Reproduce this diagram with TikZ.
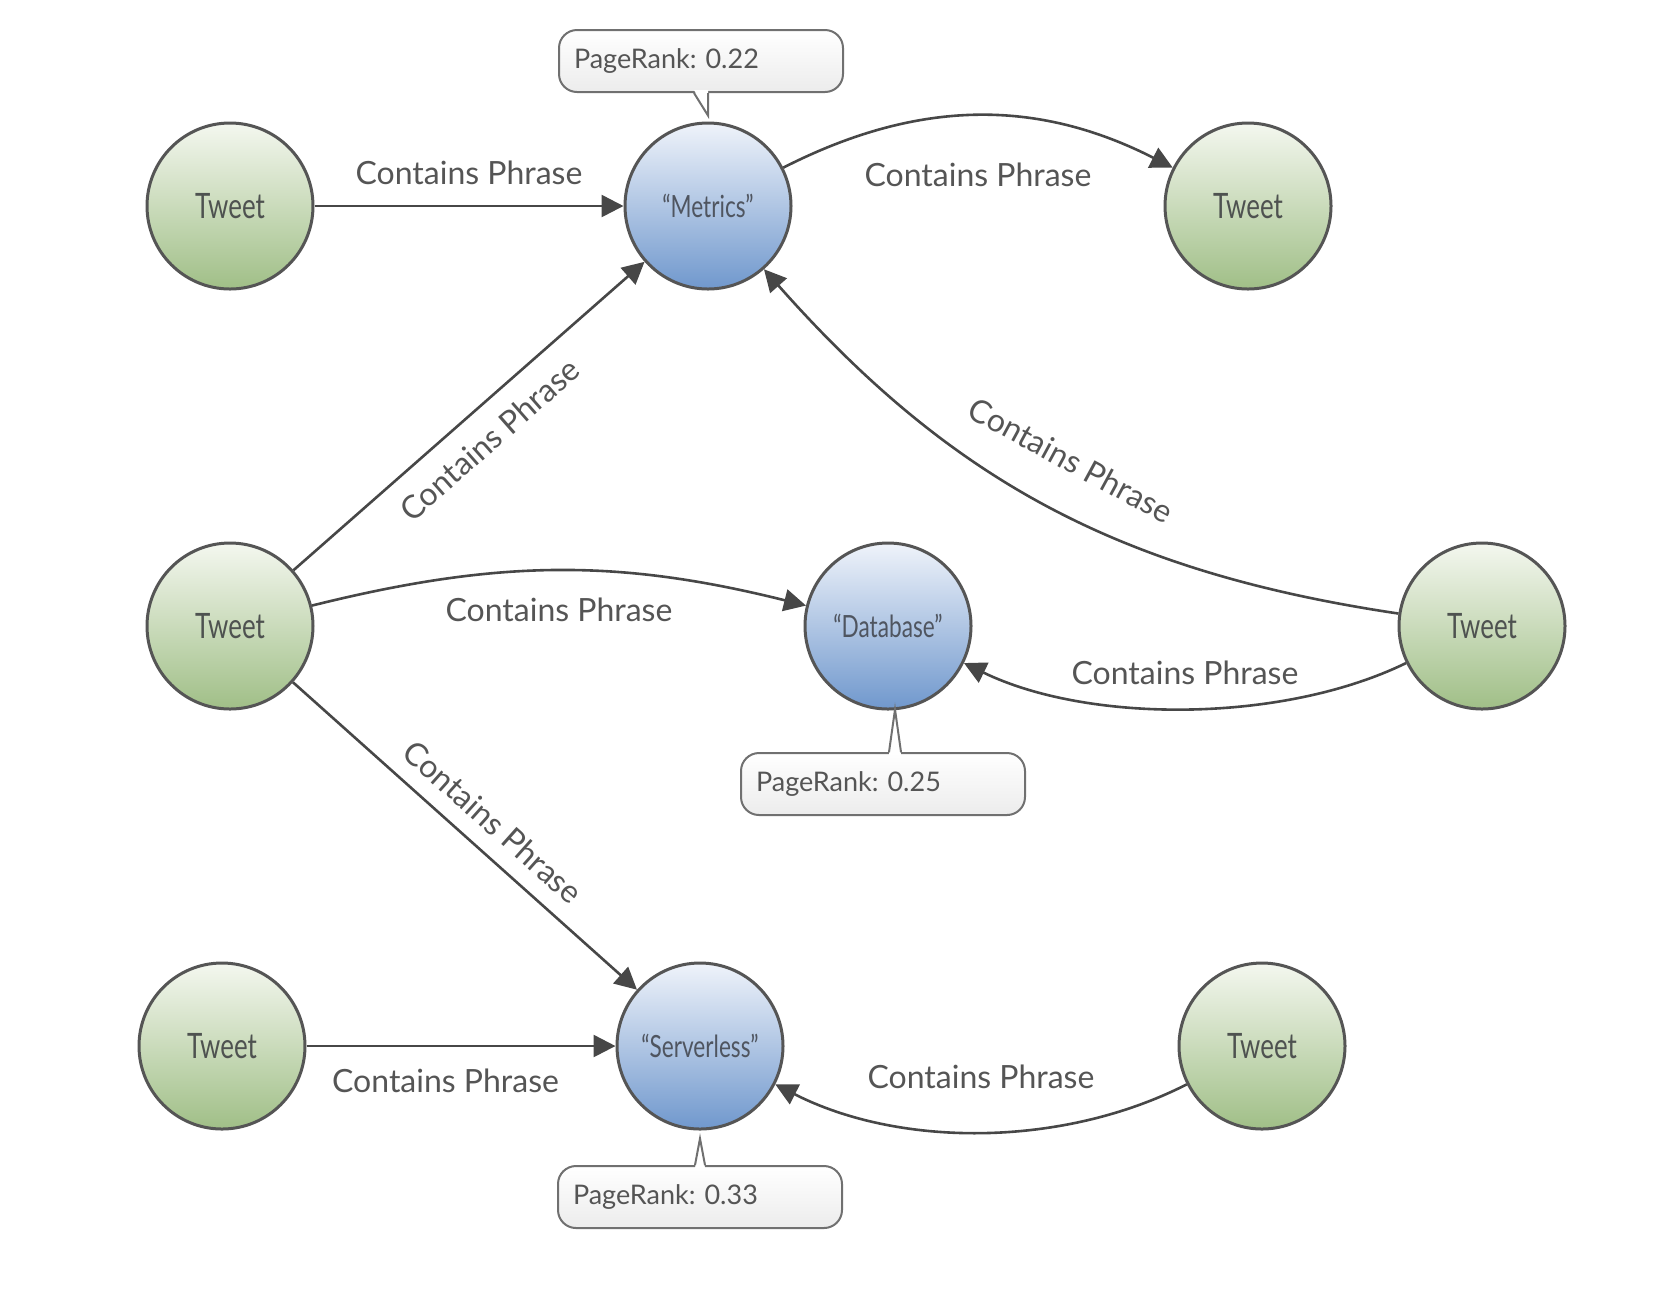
\documentclass[tikz,border=0pt]{standalone}
\usepackage{fontspec}
\setmainfont{Lato}
\usetikzlibrary{
		calc,
		positioning,
		arrows.meta
	}
\definecolor{tweettop}{HTML}{F4F7EF}
\definecolor{tweetbot}{HTML}{A0BF87}
\definecolor{phrtop}{HTML}{EFF3FA}
\definecolor{phrbot}{HTML}{7098CD}
\definecolor{rim}{HTML}{555555}
\definecolor{ink}{HTML}{474747}
\definecolor{txt}{HTML}{555555}
\definecolor{tweettxt}{HTML}{4E5250}
\definecolor{phrtxt}{HTML}{4F5560}
\definecolor{boxrim}{HTML}{707070}
\definecolor{boxbot}{HTML}{ECECEC}
\tikzset{
		>={Triangle[length=11pt,width=11pt]},
		circ/.style={circle, draw=rim, line width=1.5pt, minimum size=83pt, inner sep=0pt},
		tweet/.style={circ, top color=tweettop, bottom color=tweetbot, text=tweettxt, font=\fontsize{17.5}{20}\selectfont},
		phrase/.style={circ, top color=phrtop, bottom color=phrbot, text=phrtxt, font=\fontsize{15.3}{18}\selectfont},
		rankbox/.style={draw=boxrim, line width=1pt, rounded corners=9pt, top color=white, bottom color=boxbot,
			text width=127pt, inner xsep=7.5pt, minimum height=31pt, align=left, text=txt, font=\fontsize{13.5}{16}\selectfont},
		pointer/.style={draw=boxrim, line width=1pt, line join=miter},
		link/.style={->, draw=ink, line width=1.3pt},
		linklabel/.style={inner sep=0pt, text=txt, font=\fontsize{16}{19}\selectfont}
	}
\newcommand{\narrow}[1]{\scalebox{0.74}[1]{#1}}
\frenchspacing

\begin{document}
\begin{tikzpicture}[x=0.5pt, y=-0.5pt] % one unit = one pixel of the picture, y downwards
		\useasboundingbox (0,0) rectangle (1664,1298);
		% tweets and phrases
		\node[tweet] (tl) at (230,206) {\narrow{Tweet}};
		\node[phrase] (metrics) at (708,206) {\narrow{“Metrics”}};
		\node[tweet] (tr) at (1248,206) {\narrow{Tweet}};
		\node[tweet] (ml) at (230,626) {\narrow{Tweet}};
		\node[phrase] (db) at (888,626) {\narrow{“Database”}};
		\node[tweet] (mr) at (1482,626) {\narrow{Tweet}};
		\node[tweet] (bl) at (222,1046) {\narrow{Tweet}};
		\node[phrase] (srv) at (700,1046) {\narrow{“Serverless”}};
		\node[tweet] (br) at (1262,1046) {\narrow{Tweet}};

		% page rank call-outs
		\node[rankbox] (pr1) at (701,61) {PageRank: 0.22};
		\node[rankbox] (pr2) at (883,784) {PageRank: 0.25};
		\node[rankbox] (pr3) at (700,1197) {PageRank: 0.33};
		\coordinate (t1) at ($(metrics.north)+(0,-6)$);
		\coordinate (t2) at ($(db.south)+(7,-1)$);
		\coordinate (t3) at ($(srv.south)+(0,8)$);
		\fill[white] ($(pr1.south)+(-7,-3)$) -- (t1) -- ($(pr1.south)+(7,-3)$) -- cycle;
		\draw[pointer] ($(pr1.south)+(-7,0)$) -- (t1) -- ($(pr1.south)+(7,0)$);
		\fill[white] ($(pr2.north)+(6,3)$) -- (t2) -- ($(pr2.north)+(18,3)$) -- cycle;
		\draw[pointer] ($(pr2.north)+(6,0)$) -- (t2) -- ($(pr2.north)+(18,0)$);
		\fill[white] ($(pr3.north)+(-5,3)$) -- (t3) -- ($(pr3.north)+(5,3)$) -- cycle;
		\draw[pointer] ($(pr3.north)+(-5,0)$) -- (t3) -- ($(pr3.north)+(5,0)$);

		% contains phrase links
		\draw[link] (tl) -- node[linklabel, above=10pt] {Contains Phrase} (metrics);
		\draw[link] (metrics) to[bend left=27] node[linklabel, below=23pt] {Contains Phrase} (tr);
		\draw[link] (ml) -- node[linklabel, sloped, pos=0.5, below=9pt] {Contains Phrase} (metrics);
		\draw[link] (ml) to[bend left=14] node[linklabel, below=13pt] {Contains Phrase} (db);
		\draw[link] (mr) to[bend left=20] node[linklabel, sloped, above=19pt] {Contains Phrase} (metrics);
		\draw[link] (mr) to[bend left=26, looseness=0.8] node[linklabel, above=11pt] {Contains Phrase} (db);
		\draw[link] (ml) -- node[linklabel, sloped, pos=0.525, above=8pt] {Contains Phrase} (srv);
		\draw[link] (bl) -- node[linklabel, pos=0.45, below=11pt] {Contains Phrase} (srv);
		\draw[link] (br) to[bend left=27, looseness=0.87] node[linklabel, above=21pt] {Contains Phrase} (srv);
	\end{tikzpicture}
\end{document}
